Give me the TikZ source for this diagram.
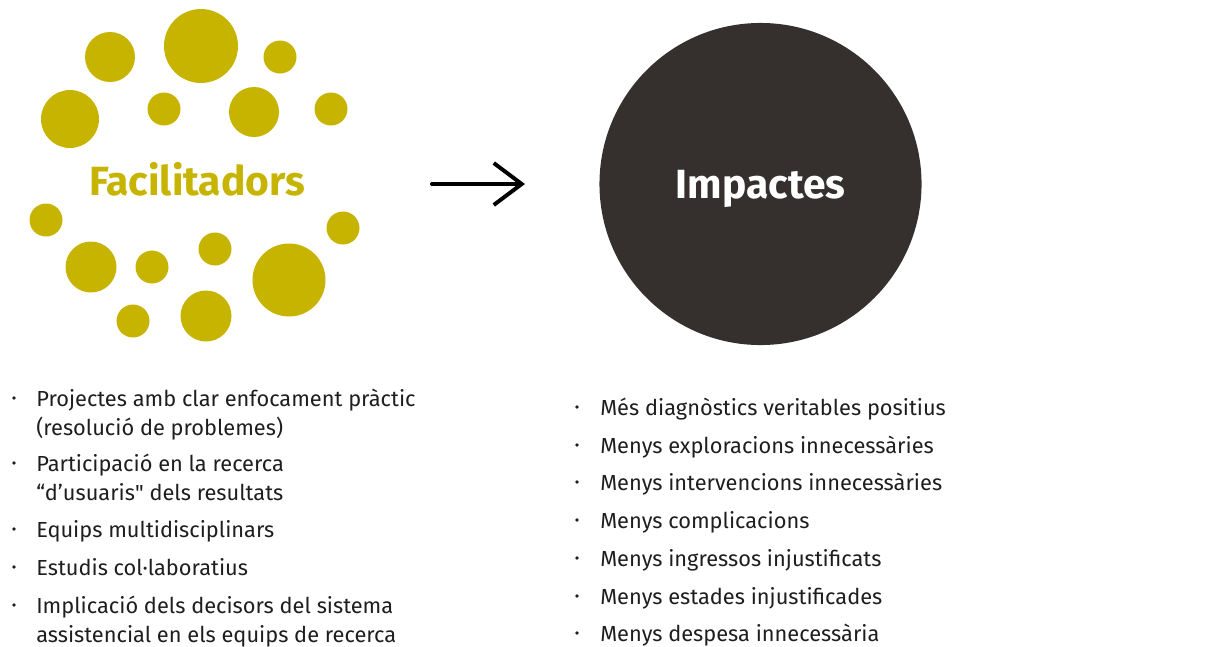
\documentclass[tikz,border=0pt]{standalone}
\usepackage{fontspec}
\setmainfont{Fira Sans}
\usetikzlibrary{arrows.meta}
\definecolor{ink}{HTML}{1E1E1E}
\definecolor{faccol}{HTML}{C6B400}
\definecolor{impcol}{HTML}{35302D}

\begin{document}
\begin{tikzpicture}[
  x=0.025cm, y=-0.025cm, line cap=round, line join=round,
  ttl/.style={font=\fontsize{29}{32}\selectfont\bfseries, inner sep=0pt},
  item/.style={font=\fontsize{15.5}{20.6}\selectfont, text=ink, align=left,
               anchor=base west, inner sep=0pt},
  dot/.style={circle, fill=ink, inner sep=0pt, minimum size=2.8pt},
  flow/.style={-{Straight Barb[length=7mm,width=10.5mm]}, line width=2.8pt, black}]
\useasboundingbox (0,0) rectangle (1216,646);

% ==================================================== left: facilitadors
\foreach \x/\y/\r in {110/57/25, 201/46/37, 280/57/16.5, 70/119/29, 164/109/16.5,
    254/112/25, 331/109/16.5, 46/220/16.5, 91/267/25.5, 152/267/16.5,
    215/249/16.5, 289/280/36.5, 343/228/16.5, 133/321/16.5, 206/316/25.5}
  \fill[faccol] (\x,\y) circle (\r);
\node[ttl, text=faccol, anchor=base] (fac) at (197,195) {Facilitadors};

% first baseline / last baseline / text
\foreach \y/\b/\t [count=\i] in {
    406/435/{Projectes amb clar enfocament pràctic\\(resolució de problemes)},
    471/500/{Participació en la recerca\\“d’usuaris\textquotedbl{} dels resultats},
    537/537/{Equips multidisciplinars},
    575/575/{Estudis col·laboratius},
    613/642/{Implicació dels decisors del sistema\\assistencial en els equips de recerca}}{
  \node[dot] (fb\i) at (14,\y-8) {};
  \node[item] (ft\i) at (36,\b) {\t};}

% ==================================================== the arrow
\coordinate (arrS) at (432,184);
\coordinate (arrE) at (525,184);
\draw[flow] (arrS) -- (arrE);

% ==================================================== right: impactes
\node[circle, fill=impcol, minimum size=8.05cm, inner sep=0pt, text depth=0pt,
      ttl, text=white] (imp) at (760.5,184) {Impactes};

\foreach \y/\t [count=\i] in {
    415/{Més diagnòstics veritables positius},
    453/{Menys exploracions innecessàries},
    490/{Menys intervencions innecessàries},
    528/{Menys complicacions},
    566/{Menys ingressos injustificats},
    604/{Menys estades injustificades},
    641/{Menys despesa innecessària}}{
  \node[dot] (ib\i) at (577,\y-8) {};
  \node[item] (it\i) at (600,\y) {\t};}

\end{tikzpicture}
\end{document}
